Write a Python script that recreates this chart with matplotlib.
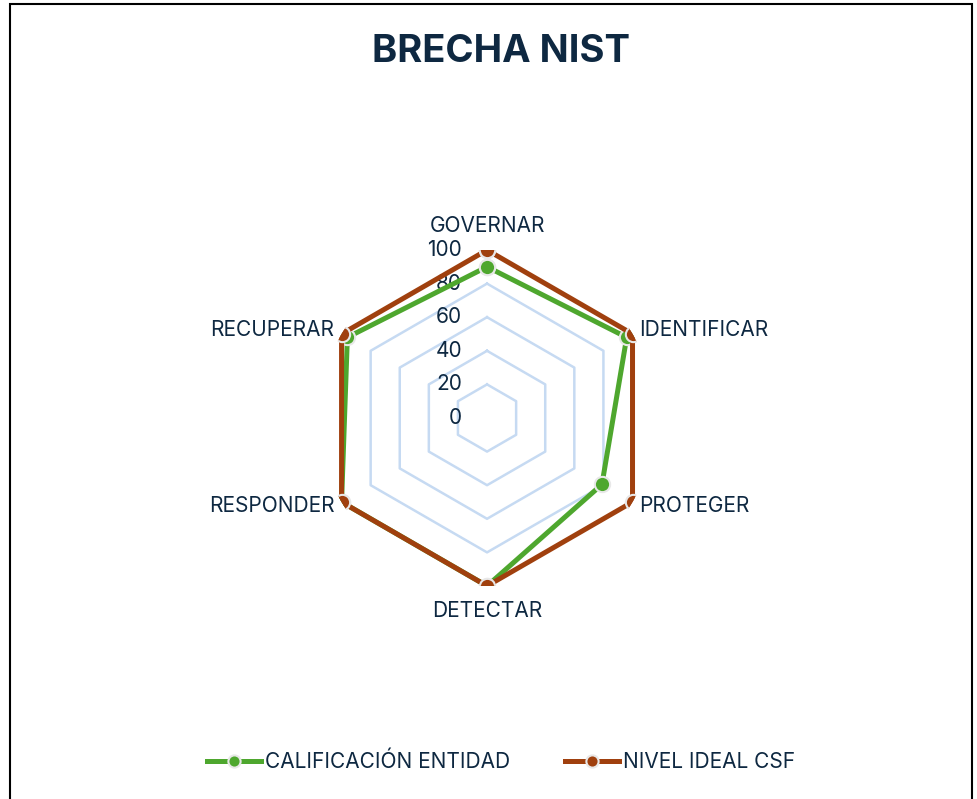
import numpy as np
import matplotlib
matplotlib.use("Agg")
import matplotlib.pyplot as plt
from matplotlib.patches import Rectangle

categories = ["GOVERNAR", "IDENTIFICAR", "PROTEGER", "DETECTAR", "RESPONDER", "RECUPERAR"]
entidad = [90, 96, 79, 100, 100, 96]
ideal = [100, 100, 100, 100, 100, 100]
ticks = [0, 20, 40, 60, 80, 100]

text_color = "#0e2841"
green = "#4ea72e"
brown = "#a0400e"
grid_color = "#c6daf2"

plt.rcParams["font.family"] = ["Inter", "DejaVu Sans"]

fig = plt.figure(figsize=(9.77, 7.99), dpi=100)
fig.patches.append(Rectangle((0.010, -0.01), 0.985, 1.005, transform=fig.transFigure,
                             fill=False, edgecolor="black", linewidth=1.5))

ax = fig.add_axes([0.3265, 0.2666, 0.344, 0.4205], projection="polar")
ax.set_theta_offset(np.pi / 2)
ax.set_theta_direction(-1)
ax.set_ylim(0, 100)
ax.grid(False)
ax.spines["polar"].set_visible(False)
ax.set_xticks([])
ax.set_yticks([])
ax.patch.set_alpha(0)

angles = np.linspace(0, 2 * np.pi, len(categories), endpoint=False)
closed = np.append(angles, angles[0])

# hexagon grid
for t in ticks[1:]:
    ax.plot(closed, [t] * len(closed), color=grid_color, linewidth=1.8, zorder=1)

# radial tick labels
for t in ticks:
    ax.annotate(str(t), xy=(0, t), xytext=(-18, 0), textcoords="offset points",
                ha="right", va="center", fontsize=15, color=text_color)

for vals, col, name in [(entidad, green, "CALIFICACIÓN ENTIDAD"), (ideal, brown, "NIVEL IDEAL CSF")]:
    ax.plot(closed, vals + vals[:1], color=col, linewidth=3.6, marker="o", markersize=11,
            markeredgecolor="#e8e8e8", markeredgewidth=1.5, label=name, zorder=3)

# category labels
offsets = [(0, 10, "center", "bottom"), (5, 3, "left", "center"), (5, -3, "left", "center"),
           (0, -11, "center", "top"), (-5, -3, "right", "center"), (-5, 3, "right", "center")]
for ang, lab, (dx, dy, ha, va) in zip(angles, categories, offsets):
    ax.annotate(lab, xy=(ang, 100), xytext=(dx, dy), textcoords="offset points",
                ha=ha, va=va, fontsize=15, color=text_color)

fig.text(0.513, 1 - 52 / 799, "BRECHA NIST", ha="center", va="center",
         fontsize=27.5, fontweight="bold", color=text_color)

fig.legend(loc="center", bbox_to_anchor=(0.513, 1 - 762 / 799), ncol=2, frameon=False,
           fontsize=15, labelcolor=text_color, handlelength=2.6, handletextpad=0.2,
           columnspacing=2.6, markerscale=0.8)

fig.savefig("out.png", dpi=100)
